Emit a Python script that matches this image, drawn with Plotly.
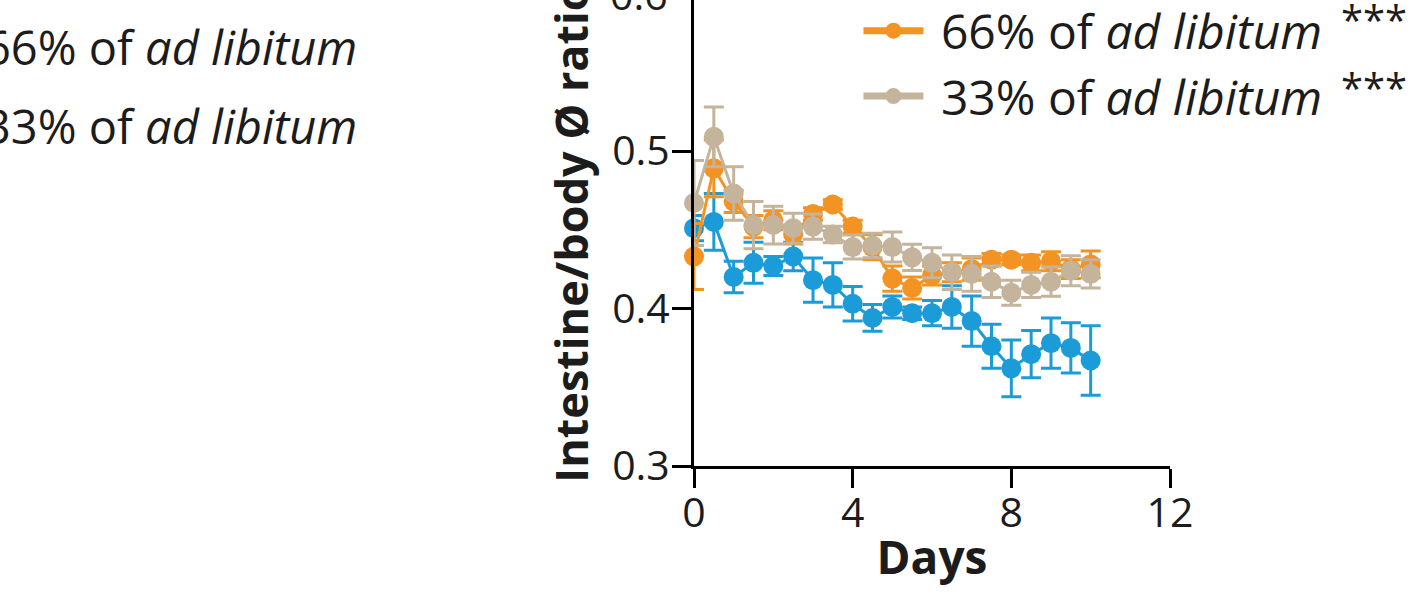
import plotly.graph_objects as go

days = [0, 0.5, 1, 1.5, 2, 2.5, 3, 3.5, 4, 4.5, 5, 5.5, 6, 6.5, 7, 7.5, 8, 8.5, 9, 9.5, 10]

adlib_mean = [0.451, 0.455, 0.420, 0.429, 0.427, 0.433, 0.418, 0.415, 0.403, 0.394, 0.401,
              0.397, 0.397, 0.401, 0.392, 0.376, 0.362, 0.371, 0.378, 0.375, 0.367]
adlib_err = [0.008, 0.018, 0.010, 0.013, 0.006, 0.009, 0.014, 0.014, 0.011, 0.0085, 0.007,
             0.004, 0.008, 0.0135, 0.016, 0.014, 0.018, 0.015, 0.016, 0.016, 0.022]

p66_mean = [0.433, 0.489, 0.468, 0.452, 0.456, 0.447, 0.460, 0.466, 0.452, 0.439, 0.419,
            0.413, 0.421, 0.423, 0.425, 0.431, 0.431, 0.429, 0.430, 0.425, 0.428]
p66_err = [0.021, 0.018, 0.007, 0.007, 0.006, 0.006, 0.004, 0.003, 0.004, 0.008, 0.008,
           0.007, 0.006, 0.006, 0.007, 0.004, 0.003, 0.005, 0.006, 0.006, 0.0085]

p33_mean = [0.467, 0.509, 0.473, 0.453, 0.453, 0.451, 0.452, 0.447, 0.439, 0.440, 0.439,
            0.4325, 0.429, 0.423, 0.422, 0.417, 0.410, 0.415, 0.417, 0.424, 0.422]
p33_err = [0.027, 0.019, 0.017, 0.015, 0.012, 0.0095, 0.008, 0.0053, 0.0076, 0.0078, 0.0095,
           0.0083, 0.0095, 0.011, 0.011, 0.010, 0.008, 0.008, 0.0093, 0.0095, 0.009]

series_names = ["ad libitum", "66% of <i>ad libitum</i>", "33% of <i>ad libitum</i>"]
significance = ["***", "***"]
side_labels = ["66% of <i>ad libitum</i>", "33% of <i>ad libitum</i>"]
x_ticks = [0, 4, 8, 12]
y_ticks = [0.3, 0.4, 0.5, 0.6]
y_tick_text = ["0.3", "0.4", "0.5", "0.6"]

BLUE = "#1B9CD8"
ORANGE = "#F39323"
BEIGE = "#C4B49B"
INK = "#1c1c1c"
FONT = "Open Sans"
TICK_SIZE = 41
LEG_SIZE = 48

W, H = 1427, 616
ML, MR, MT, MB = 694, 257, 0, 150
plot_w = W - ML - MR
plot_h = H - MT - MB
y0 = 0.3
y_per_px = 0.1 / 157.5
y_top = y0 + plot_h * y_per_px

fig = go.Figure()

for mean, err, col, name in [(adlib_mean, adlib_err, BLUE, series_names[0]),
                             (p66_mean, p66_err, ORANGE, series_names[1]),
                             (p33_mean, p33_err, BEIGE, series_names[2])]:
    fig.add_trace(go.Scatter(
        x=days, y=mean, mode="lines+markers",
        line=dict(color=col, width=3),
        marker=dict(color=col, size=20),
        error_y=dict(type="data", array=err, visible=True, color=col, thickness=3, width=10),
        cliponaxis=False, showlegend=False, name=name,
    ))

# legend-only entries
for col, name in [(ORANGE, series_names[1]), (BEIGE, series_names[2])]:
    fig.add_trace(go.Scatter(
        x=[None], y=[None], mode="lines+markers", name="\u00a0" + name,
        line=dict(color=col, width=7), marker=dict(color=col, size=16),
        showlegend=True,
    ))

def px_to_paper_x(px):
    return (px - ML) / plot_w

def px_to_paper_y(py):
    return (H - MB - py) / plot_h

annotations = []
# partial y tick label at the cut top edge
annotations.append(dict(
    x=px_to_paper_x(670), y=(0.6 - y0) / (y_top - y0), xref="paper", yref="paper",
    text=y_tick_text[3], showarrow=False, xanchor="right", yanchor="middle",
    font=dict(family=FONT, size=TICK_SIZE, color=INK),
))
# significance marks next to legend entries
for s, py in zip(significance, [20, 87]):
    annotations.append(dict(
        x=px_to_paper_x(1339), y=px_to_paper_y(py), xref="paper", yref="paper",
        text=s, showarrow=False, xanchor="left", yanchor="middle",
        font=dict(family=FONT, size=40, color=INK),
    ))
# neighbouring panel legend text, cut at left edge
for lbl, py in zip(side_labels, [47, 126]):
    annotations.append(dict(
        x=px_to_paper_x(359), y=px_to_paper_y(py), xref="paper", yref="paper",
        text=lbl, showarrow=False, xanchor="right", yanchor="middle",
        font=dict(family=FONT, size=47, color=INK),
    ))

fig.update_layout(
    width=W, height=H,
    margin=dict(l=ML, r=MR, t=MT, b=MB, pad=0, autoexpand=False),
    paper_bgcolor="white", plot_bgcolor="white",
    font=dict(family=FONT, color=INK),
    showlegend=True,
    legend=dict(
        x=0.3455, y=1 + 7 / plot_h, xanchor="left", yanchor="top",
        font=dict(family=FONT, size=LEG_SIZE, color=INK),
        bgcolor="rgba(0,0,0,0)", itemwidth=60, tracegroupgap=0,
        traceorder="grouped",
    ),
    annotations=annotations,
    xaxis=dict(
        range=[0, 12], tickvals=x_ticks, ticks="outside", ticklen=19, tickwidth=3,
        tickcolor="black", showline=True, linewidth=3, linecolor="black",
        showgrid=False, zeroline=False, ticklabelstandoff=-10,
        tickfont=dict(family=FONT, size=TICK_SIZE, color=INK),
        title=dict(text="<b>Days</b>", font=dict(family=FONT, size=46, color=INK), standoff=4),
    ),
    yaxis=dict(
        range=[y0, y_top], tickvals=y_ticks, ticktext=y_tick_text, ticks="outside",
        ticklen=19, tickwidth=3, tickcolor="black", showline=True, linewidth=3,
        linecolor="black", showgrid=False, zeroline=False, ticklabelstandoff=-6,
        tickfont=dict(family=FONT, size=TICK_SIZE, color=INK),
        title=dict(text="<b>Intestine/body Ø ratio</b>", font=dict(family=FONT, size=45, color=INK),
                   standoff=10),
    ),
)

fig.write_html("out.html")
